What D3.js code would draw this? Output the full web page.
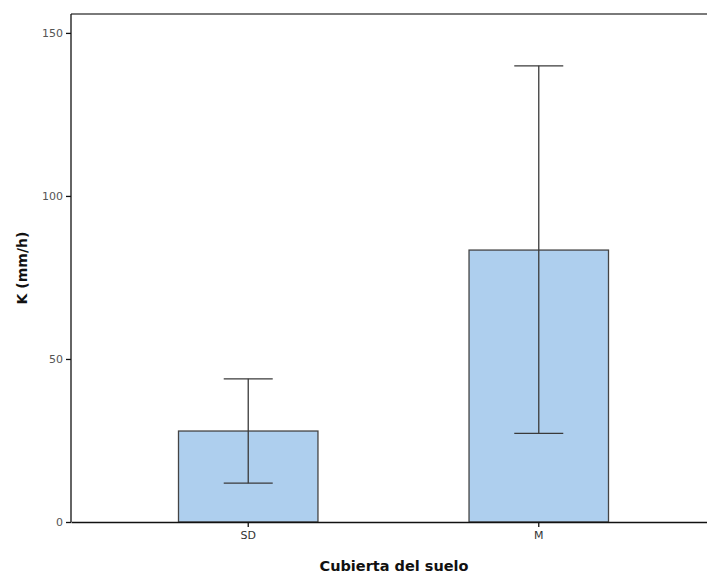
<!DOCTYPE html>
<html>
<head>
<meta charset="utf-8">
<script src="https://cdn.jsdelivr.net/npm/d3@7"></script>
<style>
  body { margin: 0; background: #fff; }
  svg { display: block; font-family: "DejaVu Sans", Verdana, sans-serif; }
</style>
</head>
<body>
<svg id="main_svg" width="707" height="573"></svg>
<script>
// data
let categories = ["SD", "M"]
let means = [27.9, 83.4]
let upper = [43.9, 139.9]
let lower = [11.9, 27.2]
let y_ticks = [0, 50, 100, 150]

let svg = d3.select("#main_svg")

let plot_left = 71, plot_right = 716, plot_top = 14, plot_bottom = 522

let x = d3.scaleBand()
    .domain(categories)
    .range([plot_left, plot_right])
    .paddingInner(0.52)
    .paddingOuter(0.37)

let y = d3.scaleLinear()
    .domain([0, 155.8])
    .range([plot_bottom, plot_top])

// top frame line
svg.append("line")
    .attr("x1", plot_left).attr("x2", plot_right)
    .attr("y1", plot_top).attr("y2", plot_top)
    .attr("stroke", "#7a7a7a")
    .attr("stroke-width", 2)

// bars
svg.selectAll(".bar")
    .data(categories)
    .enter()
    .append("rect")
    .attr("class", "bar")
    .attr("x", d => x(d))
    .attr("width", x.bandwidth())
    .attr("y", (d, i) => y(means[i]))
    .attr("height", (d, i) => y(0) - y(means[i]))
    .attr("fill", "#aecfee")
    .attr("stroke", "#444")
    .attr("stroke-width", 1.3)

// error bars
let cap = 49
let eb = svg.selectAll(".err")
    .data(categories)
    .enter()
    .append("g")
    .attr("class", "err")
    .attr("stroke", "#3a3a3a")
    .attr("stroke-width", 1.3)

eb.append("line")
    .attr("x1", d => x(d) + x.bandwidth() / 2)
    .attr("x2", d => x(d) + x.bandwidth() / 2)
    .attr("y1", (d, i) => y(upper[i]))
    .attr("y2", (d, i) => y(lower[i]))
eb.append("line")
    .attr("x1", d => x(d) + x.bandwidth() / 2 - cap / 2)
    .attr("x2", d => x(d) + x.bandwidth() / 2 + cap / 2)
    .attr("y1", (d, i) => y(upper[i]))
    .attr("y2", (d, i) => y(upper[i]))
eb.append("line")
    .attr("x1", d => x(d) + x.bandwidth() / 2 - cap / 2)
    .attr("x2", d => x(d) + x.bandwidth() / 2 + cap / 2)
    .attr("y1", (d, i) => y(lower[i]))
    .attr("y2", (d, i) => y(lower[i]))

// y axis
let yAxis = svg.append("g")
    .attr("transform", "translate(" + plot_left + ",0)")
    .call(d3.axisLeft(y).tickValues(y_ticks).tickSize(5).tickPadding(3).tickSizeOuter(0))
yAxis.select(".domain").attr("stroke", "#111").attr("stroke-width", 1.3)
    .attr("d", "M0," + plot_top + "V" + plot_bottom)
yAxis.selectAll(".tick line").attr("stroke", "#111").attr("stroke-width", 1.3)
yAxis.selectAll(".tick text").attr("fill", "#555")
    .style("font-family", "DejaVu Sans").style("font-size", "11px")

// x axis
let xAxis = svg.append("g")
    .attr("transform", "translate(0," + plot_bottom + ")")
    .call(d3.axisBottom(x).tickSize(5).tickPadding(4).tickSizeOuter(0))
xAxis.select(".domain").attr("stroke", "#111").attr("stroke-width", 1.3)
xAxis.selectAll(".tick line").attr("stroke", "#111").attr("stroke-width", 1.3)
xAxis.selectAll(".tick text").attr("fill", "#333")
    .style("font-family", "DejaVu Sans").style("font-size", "11px")

// axis titles
svg.append("text")
    .attr("x", 394)
    .attr("y", 571)
    .attr("text-anchor", "middle")
    .style("font-size", "14.5px")
    .style("font-weight", "bold")
    .attr("fill", "#111")
    .text("Cubierta del suelo")

svg.append("text")
    .attr("transform", "translate(27,268) rotate(-90)")
    .attr("text-anchor", "middle")
    .style("font-size", "14px")
    .style("font-weight", "bold")
    .attr("fill", "#111")
    .text("K (mm/h)")
</script>
</body>
</html>
